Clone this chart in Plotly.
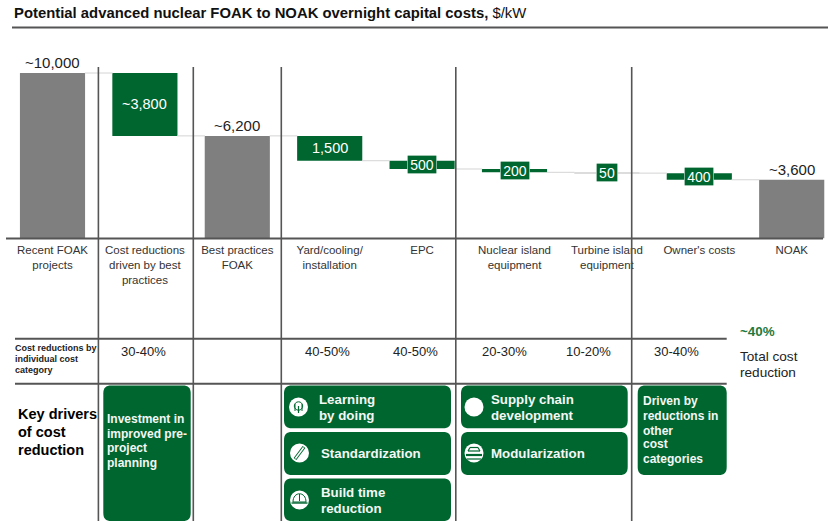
import plotly.graph_objects as go

W, H = 828, 521
FONT = "Liberation Sans"
GREEN = "#006630"
GRAY = "#7f7f7f"
FAINT = "#dcdcdc"
RULE = "#555555"

# ---- data ----
categories = ["Recent FOAK<br>projects", "Cost reductions<br>driven by best<br>practices",
              "Best practices<br>FOAK", "Yard/cooling/<br>installation", "EPC",
              "Nuclear island<br>equipment", "Turbine island<br>equipment",
              "Owner's costs", "NOAK"]
values = [10000, 3800, 6200, 1500, 500, 200, 50, 400, 3550]
kinds = ["total", "drop", "total", "drop", "drop", "drop", "drop", "drop", "total"]
value_labels = ["~10,000", "~3,800", "~6,200", "1,500", "500", "200", "50", "400", "~3,600"]
pct_labels = ["30-40%", "40-50%", "40-50%", "20-30%", "10-20%", "30-40%"]
pct_px = [143, 327, 415, 504, 588, 676]

# ---- waterfall geometry derived from the values ----
bases, tops = [], []
level = 0
for v, k in zip(values, kinds):
    if k == "total":
        bases.append(0); tops.append(v); level = v
    else:
        level -= v
        bases.append(level); tops.append(level + v)

bar_colors = [GRAY if k == "total" else (GREEN if v > 100 else FAINT) for k, v in zip(kinds, values)]

X0, DX = 52.5, 92.4
BASE_PX, PX_PER = 238.5, 0.01655

def px(x): return x / W
def py(y): return 1 - y / H

fig = go.Figure()

# connectors
cx, cy = [], []
for i in range(len(values) - 1):
    y = bases[i] if kinds[i] == "drop" else tops[i]
    cx += [i + 0.35, i + 0.65, None]
    cy += [y, y, None]
fig.add_trace(go.Scatter(x=cx, y=cy, mode="lines", line=dict(color="#d4d4d4", width=1),
                         hoverinfo="skip", showlegend=False))
fig.add_trace(go.Bar(x=list(range(len(values))), y=values, base=bases, width=0.705,
                     marker=dict(color=bar_colors, line_width=0),
                     hoverinfo="skip", showlegend=False))

shapes = []
annotations = []

def line(x0, y0, x1, y1, color=RULE, width=1.6):
    shapes.append(dict(type="line", xref="paper", yref="paper", x0=px(x0), y0=py(y0), x1=px(x1), y1=py(y1),
                       line=dict(color=color, width=width), layer="above"))

def path(d, fill=GREEN, lc=None, lw=0):
    shapes.append(dict(type="path", xref="paper", yref="paper", path=d, fillcolor=fill,
                       line=dict(color=lc or fill, width=lw), layer="above"))

def P(x, y): return f"{px(x):.5f},{py(y):.5f}"

def rrect(x0, y0, x1, y1, r=8):
    k = r * 0.3
    d = ("M " + P(x0 + r, y0) + " L " + P(x1 - r, y0) +
         " C " + P(x1 - k, y0) + " " + P(x1, y0 + k) + " " + P(x1, y0 + r) +
         " L " + P(x1, y1 - r) +
         " C " + P(x1, y1 - k) + " " + P(x1 - k, y1) + " " + P(x1 - r, y1) +
         " L " + P(x0 + r, y1) +
         " C " + P(x0 + k, y1) + " " + P(x0, y1 - k) + " " + P(x0, y1 - r) +
         " L " + P(x0, y0 + r) +
         " C " + P(x0, y0 + k) + " " + P(x0 + k, y0) + " " + P(x0 + r, y0) + " Z")
    path(d)

def circle(cx_, cy_, r, fill="white", lc=None, lw=0):
    shapes.append(dict(type="circle", xref="paper", yref="paper", x0=px(cx_ - r), x1=px(cx_ + r),
                       y0=py(cy_ - r), y1=py(cy_ + r), fillcolor=fill,
                       line=dict(color=lc or fill, width=lw), layer="above"))

def text(x, y, s, size=12, color="#222222", align="left"):
    if align == "left":
        x -= 2
    annotations.append(dict(xref="paper", yref="paper", x=px(x), y=py(y), text=s, showarrow=False,
                            xanchor=align, yanchor="middle", align=align,
                            font=dict(family=FONT, size=size, color=color)))

# rules
line(12, 27.5, 828, 27.5, width=2)
line(6, 238.5, 823, 238.5, width=2)
line(15, 338.7, 726.7, 338.7, width=2)
line(15, 383.7, 726.7, 383.7, width=2)
for vx in [98.4, 193.3, 281.3, 455.8, 631.7]:
    line(vx, 67, vx, 521)

# rounded boxes
rrect(103.3, 385.4, 190.7, 521)
rrect(284, 385.4, 451, 428.3)
rrect(284, 432, 451, 475)
rrect(284, 478.5, 451, 521)
rrect(461, 385.4, 627.7, 428.3)
rrect(461, 432, 627.7, 475)
rrect(637.7, 385.4, 726.7, 475)

# icons
circle(298.5, 407, 9.5)
circle(298.5, 406, 4.2, fill="white", lc=GREEN, lw=1)
line(298.5, 406, 298.5, 413, color=GREEN, width=1.2)
line(295, 404, 295, 411, color=GREEN, width=1)
line(302, 404, 302, 411, color=GREEN, width=1)
circle(299.5, 453, 9.5)
line(295, 459, 304, 447, color=GREEN, width=3.4)
line(295.4, 458.4, 303.6, 447.6, color="white", width=1.6)
circle(299.5, 500, 9.5)
path("M " + P(293, 502) + " C " + P(293, 491) + " " + P(306, 491) + " " + P(306, 502) + " Z", fill="white", lc=GREEN, lw=1)
line(299.5, 494, 299.5, 501, color=GREEN, width=1)
line(291.5, 503, 307.5, 503, color=GREEN, width=1.4)
circle(474, 407, 9.5)
circle(474, 453, 9.5)
line(468, 451, 480, 451, color=GREEN, width=1.2)
line(470, 447.5, 478, 447.5, color=GREEN, width=1.2)
line(470, 447.5, 468, 451, color=GREEN, width=1.2)
line(478, 447.5, 480, 451, color=GREEN, width=1.2)
line(466, 455, 482, 455, color=GREEN, width=2.2)
line(467, 459, 481, 459, color=GREEN, width=1.2)

# value labels
for i, (lab, k) in enumerate(zip(value_labels, kinds)):
    if k == "total":
        annotations.append(dict(x=i, y=tops[i], text=lab, showarrow=False, yanchor="bottom", yshift=0,
                                font=dict(family=FONT, size=15, color="#222222")))
    elif values[i] >= 1000:
        annotations.append(dict(x=i, y=(tops[i] + bases[i]) / 2, text=lab, showarrow=False,
                                font=dict(family=FONT, size=14.5, color="white")))
    else:
        annotations.append(dict(x=i, y=(tops[i] + bases[i]) / 2, text=lab, showarrow=False,
                                width=29 if len(lab) > 2 else 21, height=18, bgcolor=GREEN,
                                bordercolor="white", borderwidth=0.5, borderpad=0,
                                font=dict(family=FONT, size=14, color="white")))

# title
text(14, 12.5, "<b>Potential advanced nuclear FOAK to NOAK overnight capital costs,</b> $/kW", size=14.85, color="#111111")

# table rows
for lab, x in zip(pct_labels, pct_px):
    text(x, 351, lab, size=13, align="center")
for y, s in [(348, "Cost reductions by"), (359, "individual cost"), (369.5, "category")]:
    text(15, y, f"<b>{s}</b>", size=9, color="#222222")
for y, s in [(413.5, "Key drivers"), (431.5, "of cost"), (449.5, "reduction")]:
    text(18, y, f"<b>{s}</b>", size=14.5, color="#000000")
text(740, 331, "<b>~40%</b>", size=13.4, color="#1f7a3f")
text(740, 356.5, "Total cost", size=13.6)
text(740, 372.5, "reduction", size=13.6)

# box texts
W1 = "#f4f7f4"
def lines(x, ys, strs, size=12):
    for y, s in zip(ys, strs):
        text(x, y, f"<b>{s}</b>", size=size, color=W1)
lines(106.5, [419, 433.7, 448.3, 463], ["Investment in", "improved pre-", "project", "planning"])
lines(319, [399.5, 415.5], ["Learning", "by doing"], size=13.3)
lines(321, [453], ["Standardization"], size=13.3)
lines(321, [492.5, 508.5], ["Build time", "reduction"], size=13.3)
lines(490.5, [399.5, 415.5], ["Supply chain", "development"], size=13.3)
lines(490.5, [453], ["Modularization"], size=13.3)
lines(643, [401, 415.7, 430.5, 444, 458.5], ["Driven by", "reductions in", "other", "cost", "categories"])

fig.update_layout(
    width=W, height=H, margin=dict(l=0, r=0, t=0, b=0),
    paper_bgcolor="white", plot_bgcolor="white", showlegend=False,
    shapes=shapes, annotations=annotations,
    xaxis=dict(range=[(0 - X0) / DX, (W - X0) / DX], tickmode="array",
               tickvals=list(range(len(categories))), ticktext=categories,
               tickfont=dict(family=FONT, size=11.5, color="#333333"),
               ticks="", ticklabelstandoff=3, showgrid=False, zeroline=False, showline=False, anchor="y"),
    yaxis=dict(domain=[1 - BASE_PX / H, 1], range=[0, BASE_PX / PX_PER],
               visible=False, showgrid=False, zeroline=False),
)
fig.write_html("out.html", config=dict(displayModeBar=False),
               post_script="document.body.style.margin='0';")
